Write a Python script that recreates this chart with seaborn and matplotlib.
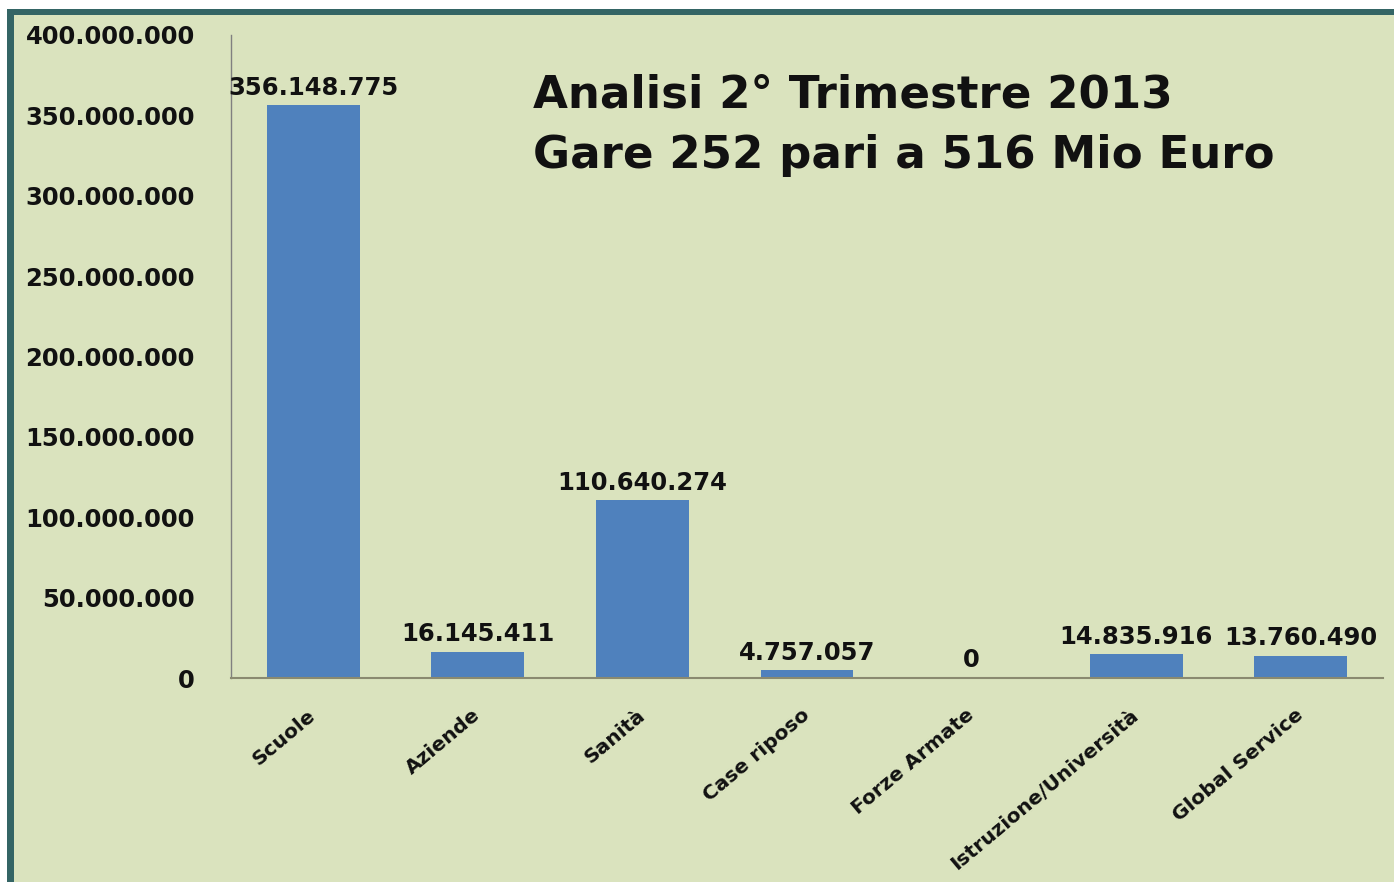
import matplotlib
matplotlib.use("Agg")
import matplotlib.pyplot as plt
import matplotlib.transforms as mtransforms
from matplotlib.patches import Rectangle
import seaborn as sns
import pandas as pd

categories = ["Scuole", "Aziende", "Sanità", "Case riposo", "Forze Armate",
              "Istruzione/Università", "Global Service"]
values = [356148775, 16145411, 110640274, 4757057, 0, 14835916, 13760490]
value_labels = ["356.148.775", "16.145.411", "110.640.274", "4.757.057", "0",
                "14.835.916", "13.760.490"]
yticks = [0, 50000000, 100000000, 150000000, 200000000, 250000000, 300000000,
          350000000, 400000000]
ytick_labels = ["0", "50.000.000", "100.000.000", "150.000.000", "200.000.000",
                "250.000.000", "300.000.000", "350.000.000", "400.000.000"]
title_lines = ["Analisi 2° Trimestre 2013", "Gare 252 pari a 516 Mio Euro"]

BG = "#DAE3BE"
BAR = "#4F81BD"
TEAL = "#346565"

sns.set_style("white", {"axes.facecolor": BG, "figure.facecolor": BG})
plt.rcParams["font.family"] = ["DejaVu Sans"]

W, H = 1394, 882
fig = plt.figure(figsize=(W / 100, H / 100), dpi=100)
fig.patch.set_facecolor(BG)

# frame decoration (white margin + teal border on top and left)
def px_rect(x0, y0, x1, y1, color):
    fig.patches.append(Rectangle((x0 / W, 1 - y1 / H), (x1 - x0) / W, (y1 - y0) / H,
                                 transform=fig.transFigure, facecolor=color,
                                 edgecolor="none", zorder=0))

px_rect(0, 0, W, 9, "white")
px_rect(0, 0, 7, H, "white")
px_rect(7, 9, W, 15, TEAL)
px_rect(7, 9, 14, H, TEAL)

ax = fig.add_axes([231 / W, 1 - 678 / H, (1383 - 231) / W, (678 - 35) / H])
ax.set_facecolor("none")

df = pd.DataFrame({"cat": categories, "val": values})
sns.barplot(data=df, x="cat", y="val", color=BAR, saturation=1, width=0.565,
            linewidth=0, edgecolor="none", ax=ax)

ax.set_ylim(0, 400000000)
ax.set_xlim(-0.5, len(categories) - 0.5)
ax.set_yticks(yticks)
ax.set_yticklabels(ytick_labels, fontsize=17.5, fontweight="bold", color="#111111")
ax.set_xlabel("")
ax.set_ylabel("")

ax.bar_label(ax.containers[0], labels=value_labels, padding=4, fontsize=17.5,
             fontweight="bold", color="#111111")

ax.set_xticks(range(len(categories)))
ax.set_xticklabels(categories, rotation=40, ha="right", va="center",
                   rotation_mode="anchor", fontsize=14.5, fontweight="bold",
                   color="#111111")
offset = mtransforms.ScaledTranslation(0.10, 0, fig.dpi_scale_trans)
for lbl in ax.get_xticklabels():
    lbl.set_transform(lbl.get_transform() + offset)

ax.tick_params(axis="x", length=0, pad=25)
ax.tick_params(axis="y", length=0, pad=26)

for s in ["top", "right"]:
    ax.spines[s].set_visible(False)
ax.spines["left"].set_color("#808080")
ax.spines["left"].set_linewidth(1.0)
ax.spines["bottom"].set_color("#8a8a70")
ax.spines["bottom"].set_linewidth(1.5)

fig.text(533 / W, 1 - 108 / H, title_lines[0], fontsize=32.5, fontweight="bold",
         color="#111111", ha="left", va="baseline")
fig.text(533 / W, 1 - 168 / H, title_lines[1], fontsize=32.5, fontweight="bold",
         color="#111111", ha="left", va="baseline")

fig.savefig("out.png", dpi=100, facecolor=BG)
